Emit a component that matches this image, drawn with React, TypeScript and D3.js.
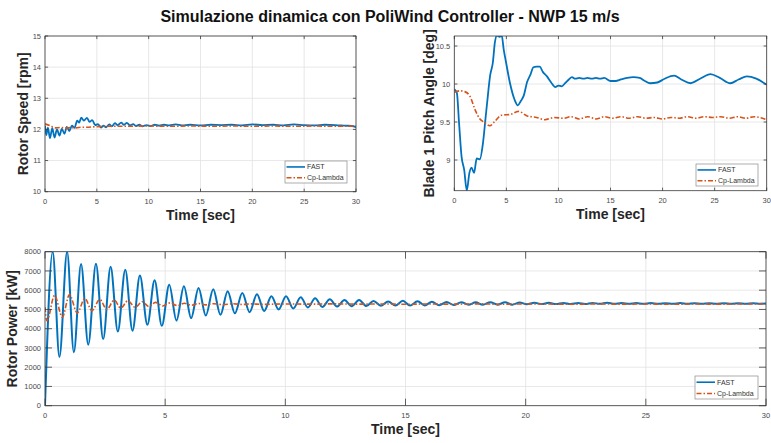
import React from "react";
import * as d3 from "d3";

type Pt = [number, number];

// ---------- DATA ----------
const TITLE = "Simulazione dinamica con PoliWind Controller - NWP 15 m/s";
const SERIES_NAMES = ["FAST", "Cp-Lambda"];
const timeTicks = [0, 5, 10, 15, 20, 25, 30];
const speedTicks = [10, 11, 12, 13, 14, 15];
const pitchTicks = [9, 9.5, 10, 10.5];
const powerTicks = [0, 1000, 2000, 3000, 4000, 5000, 6000, 7000, 8000];

const speedFast: Pt[] = [
  [0, 12.12], [0.12, 11.82], [0.28, 12.06], [0.48, 11.72], [0.7, 12.04], [0.92, 11.74],
  [1.15, 12.0], [1.4, 11.8], [1.62, 12.02], [1.88, 11.86], [2.1, 12.08], [2.35, 11.95],
  [2.6, 12.12], [2.85, 12.05], [3.1, 12.28], [3.3, 12.22], [3.5, 12.38], [3.75, 12.28],
  [4.05, 12.37], [4.3, 12.24], [4.55, 12.3], [4.85, 12.14], [5.1, 12.17], [5.4, 12.06],
  [5.65, 12.12], [5.9, 12.07], [6.2, 12.16], [6.45, 12.1], [6.75, 12.2], [7.0, 12.14],
  [7.35, 12.22], [7.6, 12.15], [7.9, 12.21], [8.2, 12.13], [8.5, 12.17], [8.8, 12.11],
  [9.1, 12.15], [9.4, 12.1], [9.8, 12.14], [10.2, 12.11], [10.6, 12.15], [11.0, 12.12],
  [11.5, 12.15], [12.0, 12.13], [12.6, 12.16], [13.2, 12.13], [14.0, 12.15], [15.0, 12.13],
  [16.0, 12.15], [17.0, 12.14], [18.0, 12.15], [19.0, 12.13], [20.0, 12.16], [21.0, 12.14],
  [22.0, 12.15], [23.0, 12.13], [24.0, 12.16], [25.0, 12.14], [26.0, 12.13], [27.0, 12.15],
  [28.0, 12.14], [29.0, 12.12], [29.6, 12.11], [30.0, 12.07],
];
const speedCp: Pt[] = [
  [0, 12.18], [0.5, 12.12], [1.0, 12.05], [1.5, 12.06], [2.0, 12.04], [2.5, 12.06],
  [3.0, 12.05], [3.5, 12.07], [4.0, 12.07], [5.0, 12.09], [6.0, 12.1], [8.0, 12.1],
  [10.0, 12.11], [12.0, 12.1], [14.0, 12.11], [16.0, 12.1], [18.0, 12.11], [20.0, 12.1],
  [22.0, 12.11], [24.0, 12.1], [26.0, 12.11], [28.0, 12.1], [30.0, 12.11],
];

const pitchFast: Pt[] = [
  [0, 9.93], [0.25, 9.88], [0.45, 9.5], [0.7, 9.04], [0.95, 8.87], [1.2, 8.6],
  [1.45, 8.83], [1.65, 8.9], [1.9, 8.83], [2.15, 9.02], [2.45, 9.01], [2.75, 9.22],
  [3.0, 9.55], [3.15, 9.75], [3.45, 10.12], [3.7, 10.28], [3.9, 10.55], [4.1, 10.64],
  [4.35, 10.62], [4.55, 10.64], [4.75, 10.45], [4.95, 10.3], [5.35, 10.01], [5.8, 9.79],
  [6.1, 9.72], [6.4, 9.78], [6.65, 9.84], [7.0, 10.03], [7.3, 10.12], [7.6, 10.22],
  [7.9, 10.23], [8.2, 10.23], [8.5, 10.16], [8.9, 10.1], [9.3, 10.02], [9.7, 9.96],
  [10.0, 9.98], [10.3, 9.97], [10.7, 10.02], [11.0, 10.06], [11.3, 10.09], [11.6, 10.07],
  [12.0, 10.08], [12.4, 10.07], [12.8, 10.08], [13.2, 10.07], [13.6, 10.08], [14.0, 10.07],
  [14.4, 10.08], [15.0, 10.04], [15.5, 10.04], [16.0, 10.06], [16.6, 10.08], [17.2, 10.09],
  [17.8, 10.08], [18.3, 10.04], [18.8, 10.01], [19.5, 10.02], [20.2, 10.07], [21.1, 10.11],
  [21.8, 10.06], [22.7, 10.01], [23.6, 10.07], [24.6, 10.13], [25.5, 10.08], [26.5, 10.01],
  [27.3, 10.06], [28.1, 10.1], [29.0, 10.07], [30.0, 9.99],
];
const pitchCp: Pt[] = [
  [0, 9.89], [0.55, 9.91], [1.0, 9.9], [1.5, 9.84], [2.0, 9.66], [2.4, 9.55],
  [2.95, 9.49], [3.4, 9.45], [3.9, 9.51], [4.55, 9.59], [5.4, 9.6], [6.15, 9.64],
  [7.0, 9.58], [7.9, 9.56], [8.7, 9.53], [9.6, 9.56], [10.5, 9.55], [11.2, 9.57],
  [12.0, 9.54], [12.8, 9.57], [13.6, 9.54], [14.4, 9.57], [15.2, 9.55], [16.0, 9.57],
  [16.8, 9.55], [17.6, 9.57], [18.4, 9.55], [19.2, 9.56], [20.0, 9.54], [20.8, 9.56],
  [21.6, 9.55], [22.4, 9.57], [23.2, 9.55], [24.0, 9.57], [24.8, 9.56], [25.6, 9.57],
  [26.4, 9.55], [27.2, 9.57], [28.0, 9.55], [28.8, 9.57], [29.6, 9.55], [30.0, 9.53],
];

const powerFast: Pt[] = [
  [0, 0], [0.32, 8000], [0.6, 2530], [0.92, 8000], [1.2, 2780], [1.5, 7360],
  [1.8, 3170], [2.12, 7380], [2.42, 3460], [2.73, 7220], [3.03, 3850], [3.34, 7060],
  [3.64, 3900], [3.95, 6760], [4.26, 4200], [4.56, 6520], [4.86, 4150], [5.17, 6280],
  [5.47, 4420], [5.78, 6200], [6.08, 4550], [6.39, 6120], [6.69, 4680], [7.0, 6050],
  [7.3, 4720], [7.6, 5950], [7.9, 4800], [8.21, 5850], [8.51, 4860], [8.82, 5790],
  [9.12, 4920], [9.42, 5680], [9.72, 5000], [10.03, 5690], [10.33, 5050], [10.64, 5630],
  [10.94, 5100], [11.24, 5580], [11.54, 5130], [11.85, 5530], [12.15, 5150], [12.46, 5490],
  [12.76, 5170], [13.07, 5490], [13.37, 5180], [13.67, 5440], [13.97, 5195], [14.28, 5410],
  [14.58, 5200], [14.89, 5450], [15.19, 5200], [15.5, 5430], [15.8, 5210], [16.1, 5400],
  [16.4, 5220], [16.71, 5390], [17.01, 5230], [17.32, 5380], [17.62, 5240], [17.92, 5370],
  [18.22, 5240], [18.53, 5380], [18.83, 5250], [19.14, 5370], [19.44, 5250], [19.75, 5360],
  [20.05, 5270], [20.36, 5350], [20.66, 5280], [20.96, 5345], [21.26, 5280], [21.57, 5340],
  [21.87, 5285], [22.18, 5335], [22.48, 5285], [22.78, 5340], [23.08, 5290], [23.39, 5345],
  [23.69, 5290], [24.0, 5335], [24.3, 5290], [24.6, 5330], [24.9, 5295], [25.21, 5330],
  [25.51, 5295], [25.82, 5325], [26.12, 5295], [26.43, 5330], [26.73, 5295], [27.03, 5325],
  [27.33, 5295], [27.64, 5325], [27.94, 5300], [28.25, 5320], [28.55, 5295], [28.85, 5325],
  [29.15, 5300], [29.46, 5320], [29.76, 5300], [30.0, 5310],
];
const powerCp: Pt[] = [
  [0, 5120], [0.08, 4420], [0.4, 5730], [0.72, 4600], [1.02, 5770], [1.34, 4820],
  [1.66, 5570], [1.95, 4940], [2.28, 5520], [2.57, 5000], [2.88, 5480], [3.15, 5070],
  [3.45, 5450], [3.75, 5110], [4.05, 5400], [4.32, 5150], [4.6, 5370], [4.9, 5180],
  [5.2, 5340], [5.5, 5200], [5.8, 5320], [6.1, 5220], [6.4, 5310], [6.7, 5240],
  [7.0, 5300], [7.4, 5250], [7.8, 5295], [8.2, 5260], [8.6, 5290], [9.0, 5265],
  [10.0, 5285], [11.0, 5275], [12.0, 5290], [13.0, 5275], [14.0, 5285], [15.0, 5270],
  [16.0, 5285], [17.0, 5275], [18.0, 5290], [19.0, 5270], [20.0, 5285], [21.0, 5280],
  [22.0, 5270], [23.0, 5290], [24.0, 5275], [25.0, 5285], [26.0, 5270], [27.0, 5285],
  [28.0, 5275], [29.0, 5285], [30.0, 5280],
];

// ---------- STYLE ----------
const BLUE = "#0072BD";
const ORANGE = "#D95319";
const FONT = "'Liberation Sans', Arial, Helvetica, sans-serif";
const AXIS = "#3a3a3a";
const GRID = "#e2e2e2";

interface PanelProps {
  id: string;
  left: number; top: number; right: number; bottom: number;
  yDomain: [number, number];
  yTicks: number[];
  fast: Pt[]; cp: Pt[];
  ylabel: string; ylabelX: number;
  tickLen: number;
  legend: { x: number; y: number; w: number; h: number };
  blueWidth: number;
}

function Panel(p: PanelProps) {
  const x = d3.scaleLinear().domain([0, 30]).range([p.left, p.right]);
  const y = d3.scaleLinear().domain(p.yDomain).range([p.bottom, p.top]);
  const line = d3.line<Pt>().x((d) => x(d[0])).y((d) => y(d[1])).curve(d3.curveMonotoneX);
  const fmt = (v: number) => String(v);
  const L = p.legend;
  const row1 = L.y + L.h * 0.27;
  const row2 = L.y + L.h * 0.76;
  return (
    <g>
      <defs>
        <clipPath id={`clip-${p.id}`}>
          <rect x={p.left} y={p.top} width={p.right - p.left} height={p.bottom - p.top} />
        </clipPath>
      </defs>
      <rect x={p.left} y={p.top} width={p.right - p.left} height={p.bottom - p.top} fill="#fff" />
      {timeTicks.map((t) => (
        <line key={`gx${t}`} x1={x(t)} x2={x(t)} y1={p.top} y2={p.bottom} stroke={GRID} strokeWidth={0.8} />
      ))}
      {p.yTicks.map((t) => (
        <line key={`gy${t}`} x1={p.left} x2={p.right} y1={y(t)} y2={y(t)} stroke={GRID} strokeWidth={0.8} />
      ))}
      <g clipPath={`url(#clip-${p.id})`}>
        <path d={line(p.fast) || ""} fill="none" stroke={BLUE} strokeWidth={p.blueWidth} strokeLinejoin="round" />
        <path d={line(p.cp) || ""} fill="none" stroke={ORANGE} strokeWidth={1.6} strokeDasharray="5 2 1.5 2" />
      </g>
      <rect x={p.left} y={p.top} width={p.right - p.left} height={p.bottom - p.top} fill="none" stroke={AXIS} strokeWidth={0.8} />
      {timeTicks.map((t) => (
        <g key={`tx${t}`}>
          <line x1={x(t)} x2={x(t)} y1={p.bottom} y2={p.bottom - p.tickLen} stroke={AXIS} strokeWidth={0.8} />
          <line x1={x(t)} x2={x(t)} y1={p.top} y2={p.top + p.tickLen} stroke={AXIS} strokeWidth={0.8} />
          <text x={x(t)} y={p.bottom + 12.5} textAnchor="middle" fontSize={7.5} fill="#4a4a4a" fontFamily={FONT}>{fmt(t)}</text>
        </g>
      ))}
      {p.yTicks.map((t) => (
        <g key={`ty${t}`}>
          <line x1={p.left} x2={p.left + p.tickLen} y1={y(t)} y2={y(t)} stroke={AXIS} strokeWidth={0.8} />
          <line x1={p.right} x2={p.right - p.tickLen} y1={y(t)} y2={y(t)} stroke={AXIS} strokeWidth={0.8} />
          <text x={p.left - 4} y={y(t) + 2.7} textAnchor="end" fontSize={7.5} fill="#4a4a4a" fontFamily={FONT}>{fmt(t)}</text>
        </g>
      ))}
      <text x={(p.left + p.right) / 2} y={p.bottom + 28.5} textAnchor="middle" fontSize={14} fontWeight="bold" fill="#262626" fontFamily={FONT}>Time [sec]</text>
      <text transform={`translate(${p.ylabelX},${(p.top + p.bottom) / 2}) rotate(-90)`} textAnchor="middle" fontSize={14} fontWeight="bold" fill="#262626" fontFamily={FONT}>{p.ylabel}</text>
      <rect x={L.x} y={L.y} width={L.w} height={L.h} fill="#fff" stroke="#8a8a8a" strokeWidth={0.7} />
      <line x1={L.x + 1.5} x2={L.x + 20} y1={row1} y2={row1} stroke={BLUE} strokeWidth={1.6} />
      <line x1={L.x + 1.5} x2={L.x + 20} y1={row2} y2={row2} stroke={ORANGE} strokeWidth={1.6} strokeDasharray="5 2 1.5 2" />
      <text x={L.x + 22} y={row1 + 2.5} fontSize={7} fill="#333" fontFamily={FONT}>{SERIES_NAMES[0]}</text>
      <text x={L.x + 22} y={row2 + 2.5} fontSize={7} fill="#333" fontFamily={FONT}>{SERIES_NAMES[1]}</text>
    </g>
  );
}

export default function App() {
  return (
    <svg width={771} height={443} viewBox="0 0 771 443" style={{ position: "absolute", left: 0, top: 0, background: "#fff" }}>
      <rect x={0} y={0} width={771} height={443} fill="#fff" />
      <text x={390} y={21.5} textAnchor="middle" fontSize={16} fontWeight="bold" fill="#111" fontFamily={FONT}>{TITLE}</text>
      <Panel id="speed" left={45} top={36} right={356} bottom={191.7} yDomain={[10, 15]} yTicks={speedTicks}
        fast={speedFast} cp={speedCp} ylabel="Rotor Speed [rpm]" ylabelX={28} tickLen={3.1}
        legend={{ x: 285, y: 161, w: 62, h: 22 }} blueWidth={1.8} />
      <Panel id="pitch" left={454.3} top={36} right={766.7} bottom={190.7} yDomain={[8.596, 10.632]} yTicks={pitchTicks}
        fast={pitchFast} cp={pitchCp} ylabel="Blade 1 Pitch Angle [deg]" ylabelX={434} tickLen={3.1}
        legend={{ x: 696, y: 164, w: 62, h: 22 }} blueWidth={1.8} />
      <Panel id="power" left={45} top={251.7} right={766} bottom={405.7} yDomain={[0, 8000]} yTicks={powerTicks}
        fast={powerFast} cp={powerCp} ylabel="Rotor Power [kW]" ylabelX={17} tickLen={7}
        legend={{ x: 695, y: 376, w: 63, h: 23 }} blueWidth={2} />
    </svg>
  );
}
